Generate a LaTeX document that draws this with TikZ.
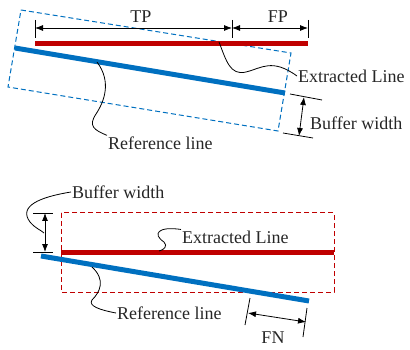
\documentclass[tikz,border=0pt]{standalone}
\usepackage{fontspec}
\setmainfont{Liberation Serif}
\usepackage{xcolor}
\usepackage{tikz}
\usetikzlibrary{arrows.meta}

\definecolor{refblue}{RGB}{0,112,192}
\definecolor{extred}{RGB}{192,0,0}

\tikzset{
	refline/.style={line width=5pt, color=refblue},
	extline/.style={line width=5pt, color=extred},
	bufbox/.style={dash pattern=on 5pt off 3pt, line width=1pt},
	dimline/.style={{Latex[length=8pt,width=6pt]}-{Latex[length=8pt,width=6pt]}, line width=0.8pt},
	tickline/.style={line width=0.8pt},
	leader/.style={line width=0.8pt},
	lab/.style={inner sep=1pt, font=\fontsize{18}{21}\selectfont, text=black!85}
}

\begin{document}
\begin{tikzpicture}[x=1pt, y=-1pt]
			\useasboundingbox (0,0) rectangle (410,350);
			% upper case: buffer round the reference line
			\coordinate (r1) at (15,48);
			\coordinate (r2) at (285,93);
			\coordinate (e1) at (35,44);
			\coordinate (e2) at (308,44);
			\draw[bufbox, refblue] (21,10) -- (291,53) -- (278,131) -- (8,87) -- cycle;
			\draw[extline] (e1) -- (e2);
			\draw[refline] (r1) -- (r2);
			\coordinate (t1a) at (35,20);
			\coordinate (t1b) at (35,38);
			\coordinate (t2a) at (232,20);
			\coordinate (t2b) at (232,38);
			\coordinate (t3a) at (308,20);
			\coordinate (t3b) at (308,38);
			\draw[tickline] (t1a) -- (t1b);
			\draw[tickline] (t2a) -- (t2b);
			\draw[tickline] (t3a) -- (t3b);
			\draw[dimline] (35,28) -- (232,28);
			\draw[dimline] (232,28) -- (308,28);
			\node[lab] at (141,17) (tp){TP};
			\node[lab] at (278,17) (fp){FP};
			\node[lab, anchor=west] at (297,76) (exlab){Extracted Line};
			\node[lab, anchor=west] at (309,123) (bwlab){Buffer width};
			\node[lab, anchor=west] at (107,143) (reflab){Reference line};
			\coordinate (ep) at (219,42);
			\coordinate (rp) at (97,62);
			\draw[leader] (ep) .. controls (226,60) and (230,76) .. (246,72)
				.. controls (262,68) and (272,58) .. (exlab.west);
			\draw[leader] (rp) .. controls (112,82) and (104,102) .. (96,114)
				.. controls (88,126) and (94,130) .. (reflab.north west);
			\coordinate (b1a) at (290,94);
			\coordinate (b1b) at (322,100);
			\coordinate (b2a) at (283,133);
			\coordinate (b2b) at (313,138);
			\draw[tickline] (b1a) -- (b1b);
			\draw[tickline] (b2a) -- (b2b);
			\draw[dimline] (304,97) -- (299,136);
			% lower case: buffer round the extracted line
			\coordinate (e3) at (61,252);
			\coordinate (e4) at (334,252);
			\coordinate (r3) at (41,256);
			\coordinate (r4) at (309,301);
			\draw[bufbox, extred] (61,213) rectangle (334,292);
			\draw[extline] (e3) -- (e4);
			\draw[refline] (r3) -- (r4);
			\coordinate (h1a) at (33,213);
			\coordinate (h1b) at (53,213);
			\coordinate (h2a) at (33,252);
			\coordinate (h2b) at (53,252);
			\draw[tickline] (h1a) -- (h1b);
			\draw[tickline] (h2a) -- (h2b);
			\draw[dimline] (45,213) -- (45,252);
			\node[lab, anchor=west] at (71,192) (bwlab2){Buffer width};
			\node[lab, anchor=west] at (181,237) (exlab2){Extracted Line};
			\node[lab, anchor=west] at (116,313) (reflab2){Reference line};
			\node[lab] at (273,338) (fn){FN};
			\coordinate (bwp) at (44,233);
			\coordinate (ep2) at (159,251);
			\coordinate (rp2) at (92,267);
			\draw[leader] (bwlab2.west) .. controls (40,197) and (18,206) .. (30,222)
				.. controls (36,229) and (41,230) .. (bwp);
			\draw[leader] (exlab2.north west) .. controls (158,226) and (152,234) .. (164,242)
				.. controls (168,246) and (164,250) .. (ep2);
			\draw[leader] (rp2) .. controls (106,280) and (100,292) .. (92,300)
				.. controls (88,306) and (100,310) .. (reflab2.west);
			\coordinate (f1a) at (250,298);
			\coordinate (f1b) at (245,325);
			\coordinate (f2a) at (307,308);
			\coordinate (f2b) at (303,337);
			\draw[tickline] (f1a) -- (f1b);
			\draw[tickline] (f2a) -- (f2b);
			\draw[dimline] (248,313) -- (306,322);
			% \node[lab] at (273,341) {FN};
		\end{tikzpicture}
\end{document}
